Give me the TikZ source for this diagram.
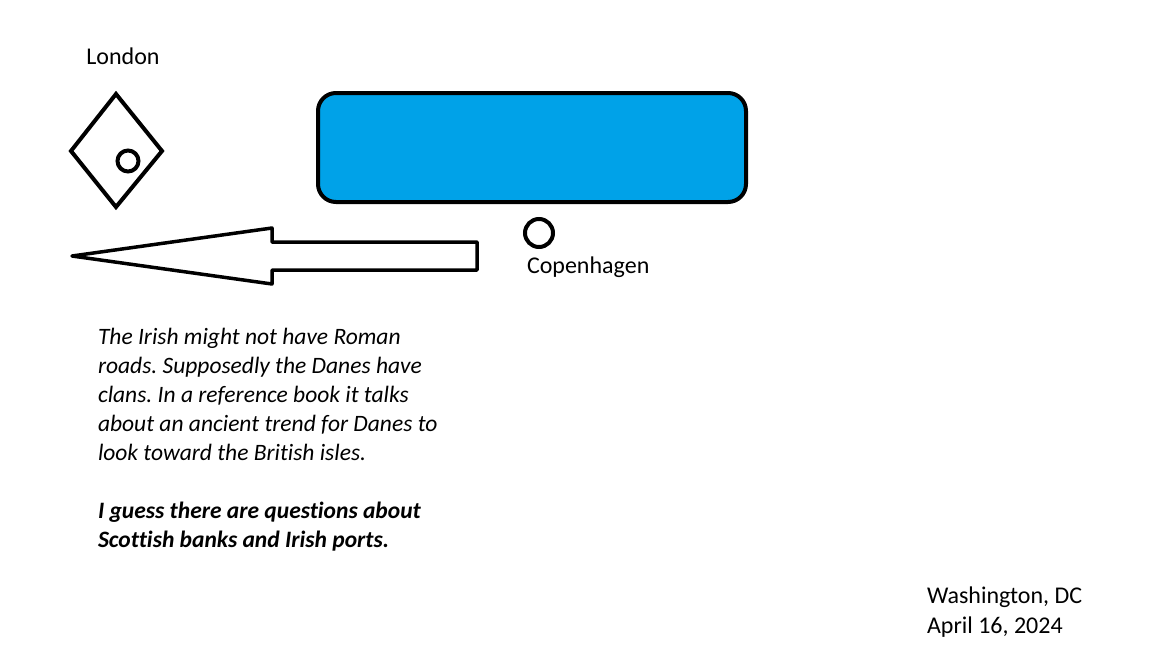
\documentclass[tikz,border=0pt]{standalone}
\usepackage{fontspec}
\setmainfont{Carlito}[Ligatures=NoCommon]
\usepackage{tikz}
\definecolor{paintblue}{RGB}{0,162,232}
\frenchspacing

\begin{document}
\begin{tikzpicture}[x=1pt,y=-1pt,line width=4pt,
    label/.style={inner sep=0pt,outer sep=0pt,font=\fontsize{24}{30}\selectfont}]
  \useasboundingbox (0,0) rectangle (1152,648);
  % London
  \node[label, anchor=base] (london) at (123,64) {London};
  \draw[line join=miter] (116,94) -- (162,151) -- (116,207) -- (71,151) -- cycle;
  \node[draw, circle, inner sep=0pt, minimum size=21pt] (town) at (128,161) {};
  % the blue box
  \node[draw, fill=paintblue, rounded corners=18pt, inner sep=0pt,
        minimum width=428pt, minimum height=109pt] (box) at (532,147.5) {};
  \node[draw, circle, inner sep=0pt, minimum size=28pt] (cph) at (539,233) {};
  \node[label, anchor=base west] (cphname) at (527,273) {Copenhagen};
  % the big arrow
  \draw[line width=3.5pt, line join=round] (72,256) -- (272,228) -- (272,242) -- (477,242)
     -- (477,270) -- (272,270) -- (272,284) -- cycle;
  \node[label, anchor=north west, align=left, font=\fontsize{23.5}{29}\selectfont\itshape] (note) at (98,328)
    {The Irish might not have Roman\\
     roads. Supposedly the Danes have\\
     clans. In a reference book it talks\\
     about an ancient trend for Danes to\\
     look toward the British isles.\\[29pt]
     \bfseries I guess there are questions about\\
     \bfseries Scottish banks and Irish ports.};
  \node[label, anchor=north west, align=left] (place) at (927,587)
    {Washington, DC\\April 16, 2024};
\end{tikzpicture}
\end{document}
